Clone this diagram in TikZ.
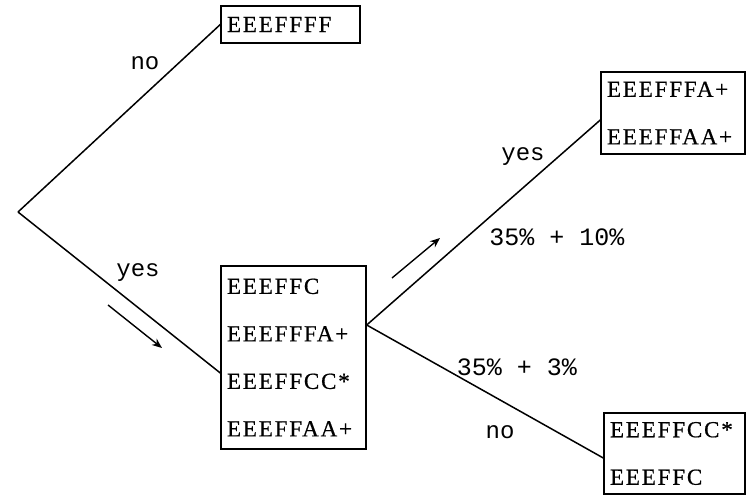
\documentclass[tikz,border=0pt]{standalone}
\usepackage{fontspec}
\usetikzlibrary{arrows.meta}
\setmainfont{Liberation Serif}
\newfontfamily\boxface{Liberation Serif}[LetterSpace=8,FakeBold=0.6]
\newfontfamily\labface{Liberation Mono}
\newcommand\boxfont{\boxface\fontsize{23}{47.5}\selectfont}
\newcommand\labfont{\labface\fontsize{24}{28}\selectfont}
\newcommand\pctfont{\labface\fontsize{25}{28}\selectfont}
\tikzset{
  box/.style={draw, line width=1.4pt, inner xsep=6pt, inner ysep=0pt,
              align=left, font=\boxfont},
  lbl/.style={font=\labfont, inner sep=0pt},
  pct/.style={font=\pctfont, inner sep=0pt},
  conn/.style={line width=1.5pt},
  flow/.style={line width=1.4pt, -{Stealth[length=10pt,width=8pt]}}
}
\begin{document}
\begin{tikzpicture}[x=1pt,y=1pt]
\useasboundingbox (0,0) rectangle (747,496);

% decision boxes
\node[box, minimum width=139pt, minimum height=37pt, text width=127pt]
  (top) at (290.5,471.5) {EEEFFFF};
\node[box, minimum width=145pt, minimum height=183pt, text width=133pt]
  (mid) at (293.5,138.5) {EEEFFC\\EEEFFFA+\\EEEFFCC*\\EEEFFAA+};
\node[box, minimum width=144pt, minimum height=82pt, text width=132pt]
  (upr) at (673,383) {EEEFFFA+\\EEEFFAA+};
\node[box, minimum width=141pt, minimum height=81pt, text width=129pt]
  (lwr) at (674.5,42.5) {EEEFFCC*\\EEEFFC};

% branch points
\coordinate (root) at (18,284);
\coordinate (midin) at ([yshift=-15.5pt]mid.west);
\coordinate (fork) at ([yshift=32.5pt]mid.east);
\coordinate (uprin) at ([yshift=-7pt]upr.west);
\coordinate (lwrin) at ([yshift=-4.5pt]lwr.west);

% tree edges
\draw[conn] (root) -- (top.west);
\draw[conn] (root) -- (midin);
\draw[conn] (fork) -- (uprin);
\draw[conn] (fork) -- (lwrin);

% direction arrows
\coordinate (a1s) at (108,191);
\coordinate (a1e) at (162,148);
\coordinate (a2s) at (392,218);
\coordinate (a2e) at (440,258);
\draw[flow] (a1s) -- (a1e);
\draw[flow] (a2s) -- (a2e);

% edge labels
\node[lbl] (lno1) at (145,433) {no};
\node[lbl] (lyes1) at (138,223) {yes};
\node[lbl] (lyes2) at (523,339) {yes};
\node[pct] (lp1) at (557,259) {35\% + 10\%};
\node[pct] (lp2) at (517,129) {35\% + 3\%};
\node[lbl] (lno2) at (500,64) {no};
\end{tikzpicture}
\end{document}
